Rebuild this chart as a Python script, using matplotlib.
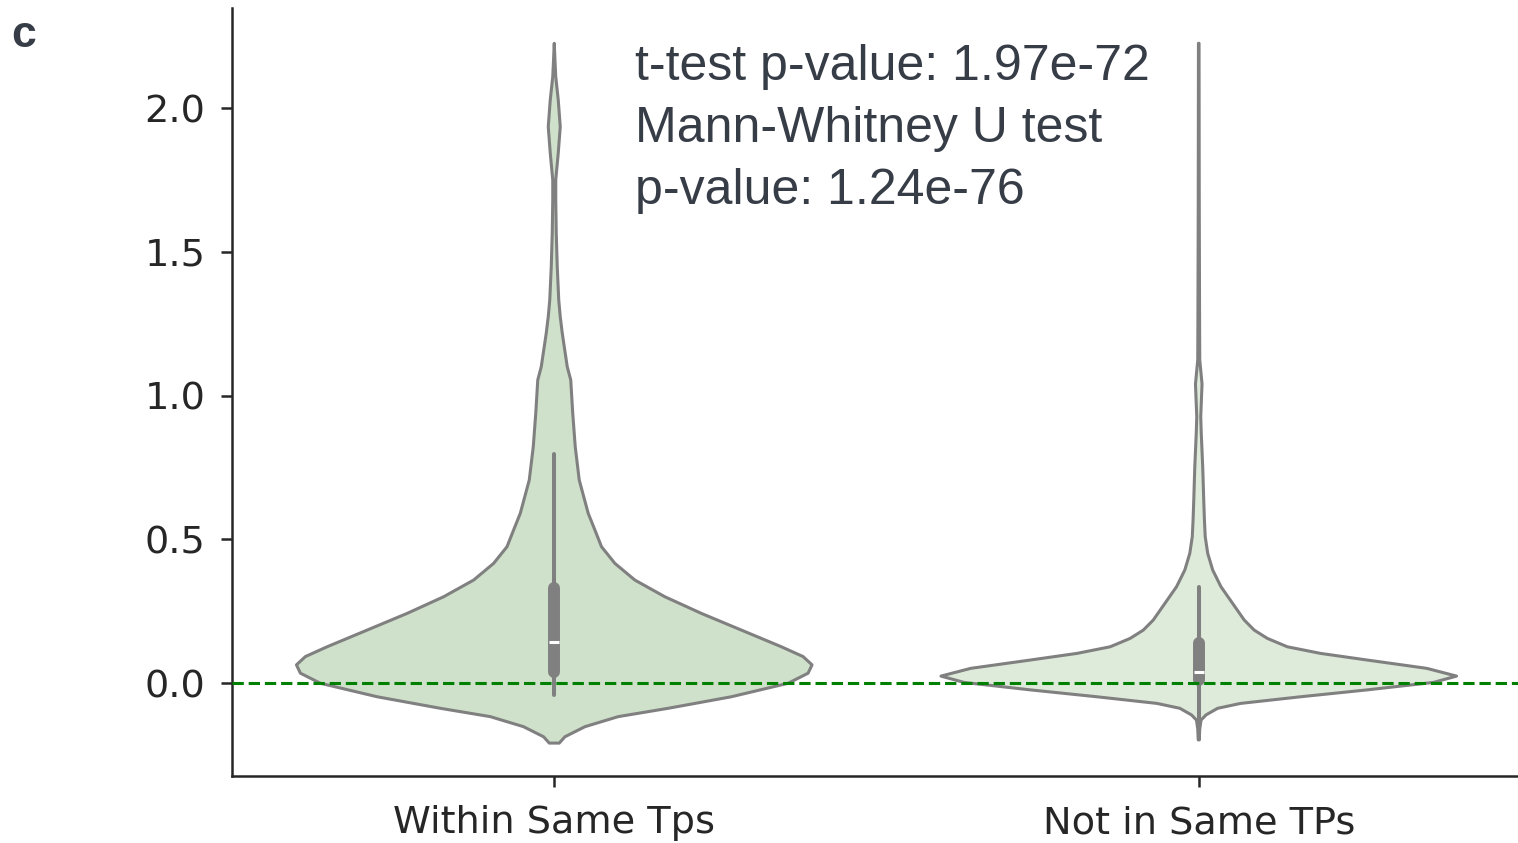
import numpy as np
import matplotlib
matplotlib.use("Agg")
import matplotlib.pyplot as plt

categories = ["Within Same Tps", "Not in Same TPs"]

# violin outlines: value grid (top -> bottom) and relative density (half-width)
within_vals = [2.225, 2.16, 2.109, 2.028, 1.935, 1.843, 1.75, 1.68, 1.565, 1.448,
               1.332, 1.274, 1.217, 1.10, 1.054, 0.938, 0.822, 0.706, 0.59, 0.532,
               0.474, 0.416, 0.358, 0.300, 0.242, 0.184, 0.126, 0.092, 0.063, 0.034,
               -0.001, -0.048, -0.088, -0.117, -0.152, -0.187, -0.209]
within_dens = [0.0, 0.8, 1.5, 4.0, 6.0, 4.0, 1.5, 1.5, 2.0, 3.0,
               4.5, 6.0, 8.0, 13.0, 16.5, 18.5, 21.0, 25.0, 34.0, 40.7,
               47.3, 60.7, 80.7, 110.7, 147.3, 187.3, 227.3, 249.0, 258.0, 254.0,
               234.0, 177.0, 114.0, 64.0, 30.7, 10.7, 5.0]

notin_vals = [2.225, 1.68, 1.3, 1.124, 1.04, 0.926, 0.87, 0.75, 0.637, 0.567,
              0.509, 0.451, 0.393, 0.335, 0.277, 0.219, 0.184, 0.155, 0.126, 0.103,
              0.080, 0.051, 0.024, 0.002, -0.024, -0.048, -0.071, -0.088, -0.111,
              -0.129, -0.16, -0.198]
notin_dens = [0.3, 0.5, 0.8, 1.0, 3.3, 2.0, 2.5, 4.0, 5.0, 5.7,
              6.5, 9.0, 14.0, 22.3, 34.0, 45.7, 55.7, 69.0, 89.0, 122.3,
              169.0, 229.0, 259.0, 235.7, 169.0, 102.0, 42.0, 19.0, 7.3,
              2.3, 1.0, 0.5]

# inner box stats: whisker low, q1, median, q3, whisker high
within_box = [-0.042, 0.037, 0.144, 0.330, 0.797]
notin_box = [-0.196, 0.010, 0.037, 0.139, 0.333]

fills = ["#cfe1cb", "#deebda"]
stats_text = "t-test p-value: 1.97e-72\nMann-Whitney U test\np-value: 1.24e-76"

W, H, DPI = 1518, 843, 100
fig = plt.figure(figsize=(W / DPI, H / DPI), dpi=DPI)
ax = fig.add_axes([232 / W, (H - 776) / H, (1521 - 232) / W, (776 - 8) / H])

ink = "#262626"
edge = "#808080"

groups = [(within_vals, within_dens, within_box), (notin_vals, notin_dens, notin_box)]
for pos, (vals, dens, box) in enumerate(groups):
    vals = np.asarray(vals)
    dens = np.asarray(dens)
    half = dens / dens.max() * 0.4
    xs = np.concatenate([pos - half, (pos + half)[::-1]])
    ys = np.concatenate([vals, vals[::-1]])
    ax.fill(xs, ys, facecolor=fills[pos], edgecolor=edge, linewidth=2.2,
            joinstyle="round", zorder=2)
    lo, q1, med, q3, hi = box
    ax.plot([pos, pos], [lo, hi], color=edge, lw=2.9, solid_capstyle="round", zorder=3)
    ax.plot([pos, pos], [q1, q3], color=edge, lw=8.6, solid_capstyle="round", zorder=3)
    ax.plot([pos], [med], marker="_", color="white", ms=7.5, mew=2.2, zorder=4)

ax.axhline(0, color="green", lw=2.2, ls="--", zorder=5)

ax.set_xlim(-0.5, 1.5)
ax.set_ylim((683 - 776) / 287.5, (683 - 8) / 287.5)
ax.set_xticks([0, 1])
ax.set_xticklabels(categories)
ax.set_yticks([0.0, 0.5, 1.0, 1.5, 2.0])
ax.set_yticklabels(["0.0", "0.5", "1.0", "1.5", "2.0"])
for side in ["top", "right"]:
    ax.spines[side].set_visible(False)
for side in ["left", "bottom"]:
    ax.spines[side].set_color(ink)
    ax.spines[side].set_linewidth(1.8)
ax.tick_params(axis="both", colors=ink, labelsize=27.5, length=8, width=1.8)
ax.tick_params(axis="x", pad=13)
ax.tick_params(axis="y", pad=11)

fig.text(635 / W, 1 - 44 / H, stats_text, family="Liberation Sans", fontsize=36,
         color="#373d47", va="top", ha="left", linespacing=1.44)
fig.text(11 / W, 1 - 47 / H, "c", family="Liberation Sans", fontweight="bold",
         fontsize=32, color="#373d47", va="baseline", ha="left")

fig.savefig("out.png", dpi=DPI)
